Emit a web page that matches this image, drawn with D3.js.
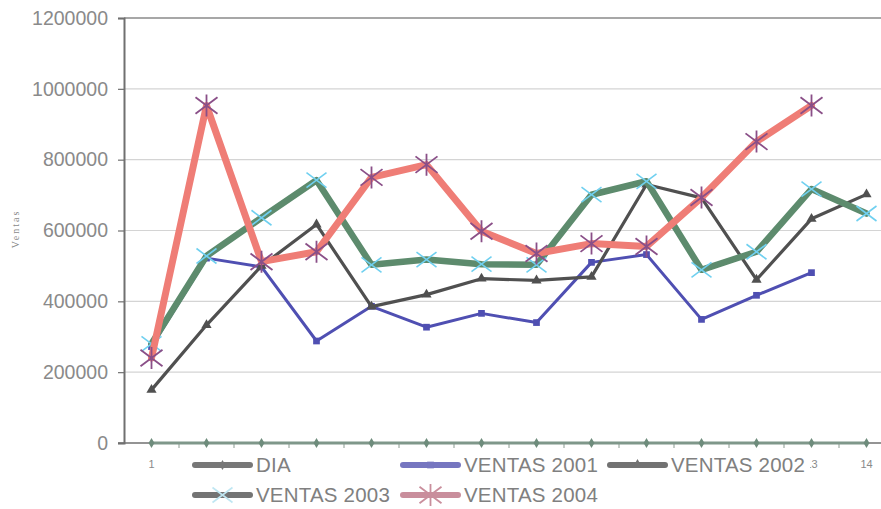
<!DOCTYPE html>
<html>
<head>
<meta charset="utf-8">
<script src="https://cdn.jsdelivr.net/npm/d3@7"></script>
<style>
body{margin:0;background:#fff;}
text{font-family:"Liberation Sans",Arial,sans-serif;}
</style>
</head>
<body>
<svg id="chart" width="881" height="509"></svg>
<script>
// data
var dias = [1,2,3,4,5,6,7,8,9,10,11,12,13,14];
var dia = [1,2,3,4,5,6,7,8,9,10,11,12,13,14];
var ventas2001 = [272000,522000,497000,288000,386000,327000,366000,340000,510000,532000,349000,417000,481000,null];
var ventas2002 = [150000,333000,500000,617000,385000,419000,464000,459000,469000,730000,692000,461000,633000,702000];
var ventas2003 = [280000,528000,636000,742000,503000,518000,505000,503000,701000,739000,489000,540000,717000,648000];
var ventas2004 = [240000,953000,512000,540000,750000,786000,598000,535000,563000,555000,693000,851000,953000,null];
var yTicks = [0,200000,400000,600000,800000,1000000,1200000];
var xLabels = ["1","2","3","4","5","6","7","8","9","10","11","12","13","14"];
var names = ["DIA","VENTAS 2001","VENTAS 2002","VENTAS 2003","VENTAS 2004"];

var padLeft=124, padTop=18, padBottom=443, padRight=894;
var legX0=188, legX1=810;
var svg = d3.select("#chart");

var x = d3.scalePoint().domain(dias).range([padLeft,padRight]).padding(0.5);
var y = d3.scaleLinear().domain([0,1200000]).range([padBottom,padTop]);

// gridlines
svg.append("g")
  .selectAll("line")
  .data(yTicks.filter(function(d){ return d>0 && d<1200000; }))
  .enter().append("line")
  .attr("x1",padLeft).attr("x2",padRight)
  .attr("y1",function(d){return y(d);}).attr("y2",function(d){return y(d);})
  .attr("stroke","#d4d4d4").attr("stroke-width",1.2);

// frame top
svg.append("line")
  .attr("x1",padLeft).attr("x2",padRight).attr("y1",y(1200000)).attr("y2",y(1200000))
  .attr("stroke","#8a8a8a").attr("stroke-width",1.6);

// y axis
var yAxis = svg.append("g")
  .attr("transform","translate("+padLeft+",0)")
  .call(d3.axisLeft(y).tickValues(yTicks).tickSize(6).tickPadding(10).tickFormat(d3.format("d")));
yAxis.select(".domain").attr("stroke","#707070").attr("stroke-width",2);
yAxis.selectAll(".tick line").attr("stroke","#707070").attr("stroke-width",1.2);
yAxis.selectAll("text").attr("fill","#8a8a8a").style("font-size","19.5px")
  .style("font-family","'Liberation Sans',Arial,sans-serif");

// x axis ticks between categories
var step = x.step();
svg.append("line")
  .attr("x1",padLeft-6).attr("x2",padRight).attr("y1",padBottom).attr("y2",padBottom)
  .attr("stroke","#707070").attr("stroke-width",1.5);
svg.append("g").selectAll("line")
  .data(dias)
  .enter().append("line")
  .attr("x1",function(d){return x(d)+step/2;}).attr("x2",function(d){return x(d)+step/2;})
  .attr("y1",padBottom).attr("y2",padBottom+5)
  .attr("stroke","#8a9a90").attr("stroke-width",1);

// category labels: the ones sitting fully under the legend box are hidden in the original
svg.append("g").selectAll("text")
  .data(dias.filter(function(d){ return x(d)+6 < legX0 || x(d) > legX1-6; }))
  .enter().append("text")
  .attr("x",function(d){return x(d);}).attr("y",468)
  .attr("text-anchor","middle").attr("fill","#8a8a8a").style("font-size","11px")
  .text(function(d){return xLabels[dias.indexOf(d)];});

// y title
svg.append("text")
  .attr("transform","translate(19,229) rotate(-90)")
  .attr("text-anchor","middle").attr("fill","#8a8a8a")
  .style("font-family","'Liberation Serif',serif").style("font-size","10px")
  .style("letter-spacing","2px")
  .text("Ventas");

// markers
function crossPath(s){ return "M"+(-s)+","+(-s*0.75)+"L"+s+","+(s*0.75)+"M"+(-s)+","+(s*0.75)+"L"+s+","+(-s*0.75); }
function starPath(s){ return crossPath(s)+"M0,"+(-s)+"L0,"+s; }

var series = [
  {name:names[0], values:dia, line:"#7f978a", width:3, marker:"diamond", mcolor:"#6e8c7c", lcolor:"#777777"},
  {name:names[1], values:ventas2001, line:"#4f4fb2", width:3, marker:"square", mcolor:"#4f4fb2", lcolor:"#7676c0"},
  {name:names[2], values:ventas2002, line:"#505050", width:3.2, marker:"triangle", mcolor:"#505050", lcolor:"#727272"},
  {name:names[3], values:ventas2003, line:"#5d8b6d", width:6.5, marker:"cross", mcolor:"#6fd0f0", lcolor:"#747474"},
  {name:names[4], values:ventas2004, line:"#ef7d76", width:7, marker:"star", mcolor:"#8a4f88", lcolor:"#c98e9c"}
];

function drawMarker(g, type, color){
  if(type=="diamond"){
    g.append("path").attr("d",d3.symbol().type(d3.symbolDiamond).size(30)).attr("fill",color);
  } else if(type=="square"){
    g.append("path").attr("d",d3.symbol().type(d3.symbolSquare).size(45)).attr("fill",color);
  } else if(type=="triangle"){
    g.append("path").attr("d",d3.symbol().type(d3.symbolTriangle).size(45)).attr("fill",color);
  } else if(type=="cross"){
    g.append("path").attr("d",crossPath(10)).attr("stroke",color).attr("stroke-width",1.6).attr("fill","none");
  } else {
    g.append("path").attr("d",starPath(11)).attr("stroke",color).attr("stroke-width",1.8).attr("fill","none");
  }
}

var line = d3.line()
  .defined(function(d){return d!=null;})
  .x(function(d,i){return x(dias[i]);})
  .y(function(d){return y(d);});

series.forEach(function(s){
  var g = svg.append("g");
  g.append("path")
    .attr("d",line(s.values))
    .attr("fill","none").attr("stroke",s.line).attr("stroke-width",s.width)
    .attr("stroke-linejoin","round").attr("stroke-linecap","round");
  s.values.forEach(function(v,i){
    if(v==null) return;
    var m = g.append("g").attr("transform","translate("+x(dias[i])+","+y(v)+")");
    drawMarker(m, s.marker, s.mcolor);
  });
});

// legend (white box covers part of label 13, as in the original)
var legend = svg.append("g");
legend.append("rect").attr("x",legX0).attr("y",452).attr("width",legX1-legX0).attr("height",57).attr("fill","#fff");
var legPos = [[195,465],[403,465],[610,465],[195,495],[403,495]];
series.forEach(function(s,i){
  var p = legPos[i];
  var g = legend.append("g").attr("transform","translate("+p[0]+","+p[1]+")");
  g.append("line").attr("x1",0).attr("x2",55).attr("y1",0).attr("y2",0)
    .attr("stroke",s.lcolor).attr("stroke-width",6).attr("stroke-linecap","round");
  var m = g.append("g").attr("transform","translate(27.5,0)");
  drawMarker(m, s.marker, s.marker=="cross" ? "#bfe6f2" : s.lcolor);
  g.append("text").attr("x",61).attr("y",7)
    .attr("fill","#808080").style("font-size","20.5px").style("letter-spacing","0.2px")
    .text(s.name);
});
</script>
</body>
</html>
